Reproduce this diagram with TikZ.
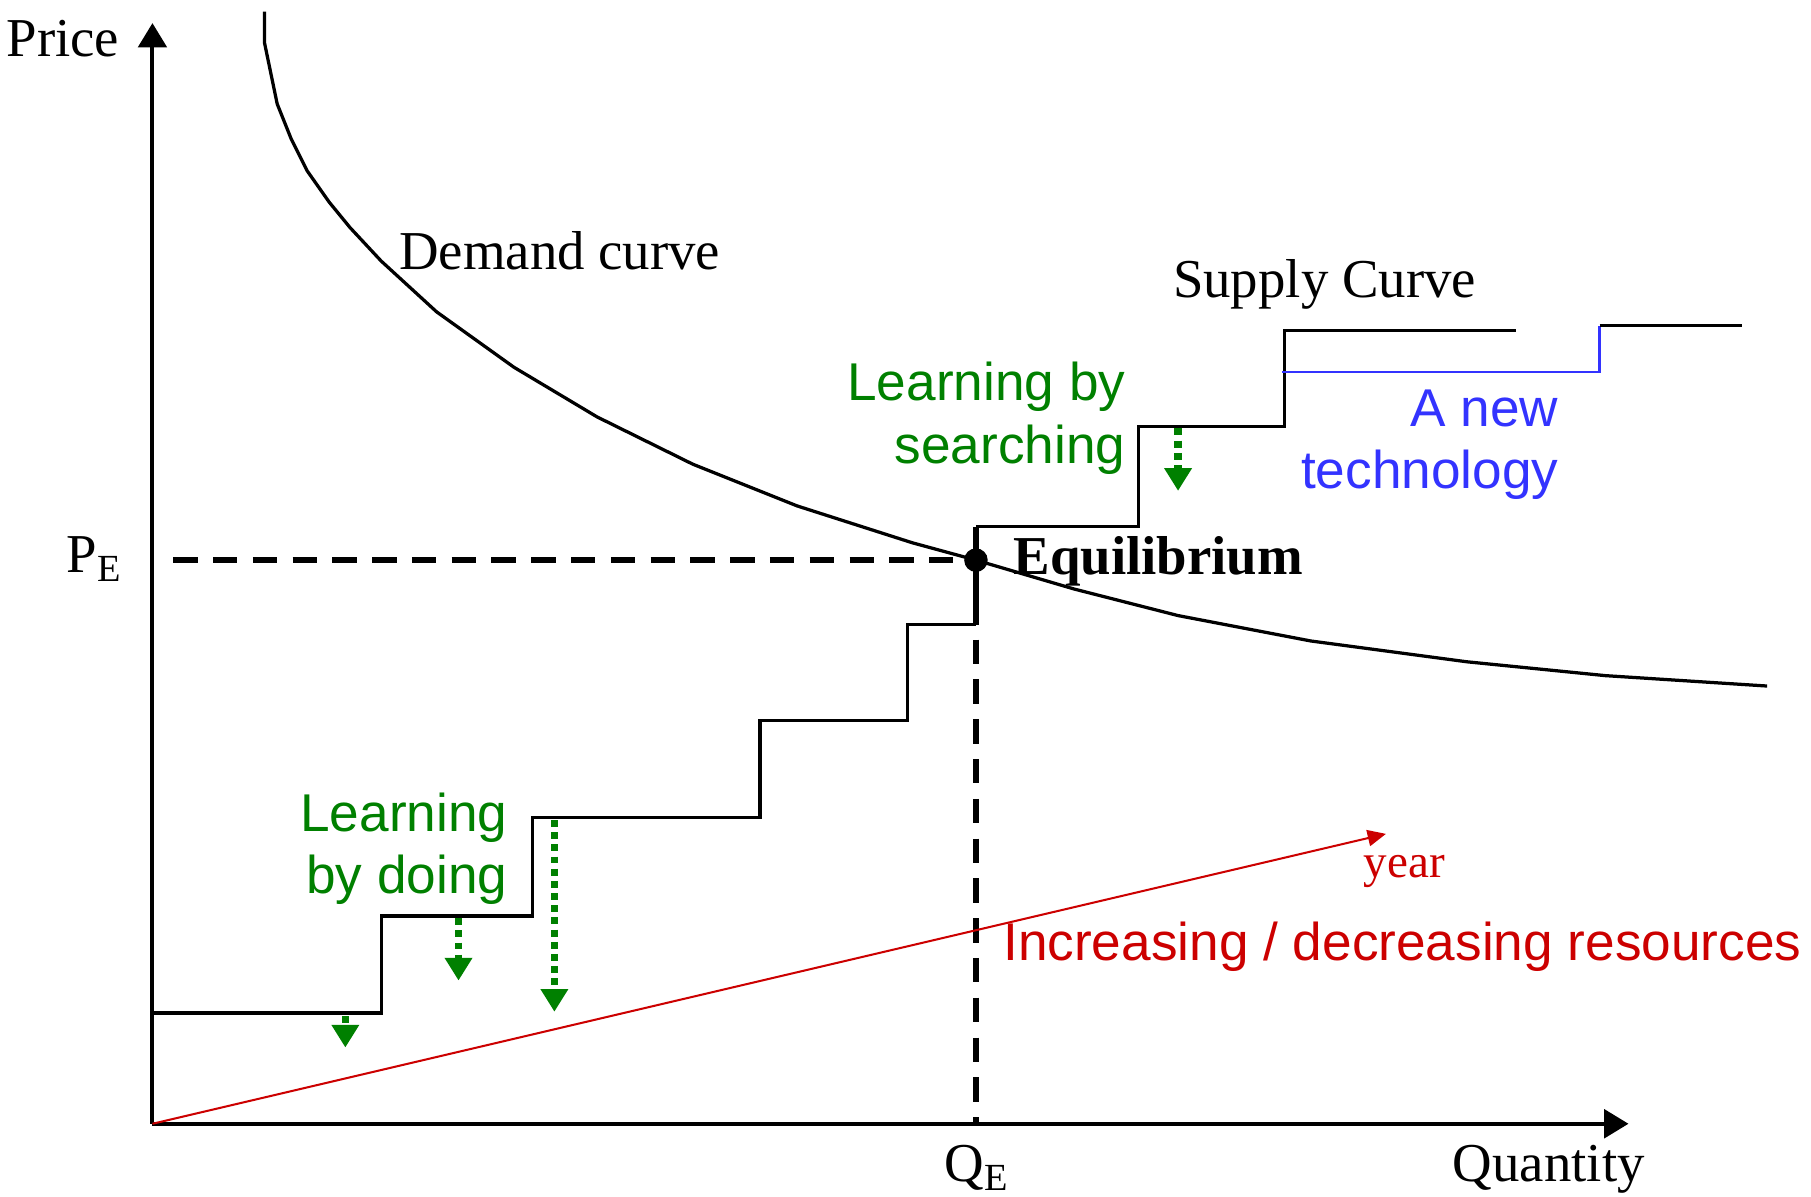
\documentclass[tikz,border=0pt]{standalone}
\usepackage{fontspec}
\setmainfont{Liberation Serif}
\newfontfamily\arialfont{Liberation Sans}
\usetikzlibrary{arrows.meta,positioning}
\definecolor{ink}{RGB}{0,0,0}
\definecolor{leaf}{RGB}{0,128,0}
\definecolor{techblue}{RGB}{51,51,255}
\definecolor{resred}{RGB}{204,0,0}
\tikzset{
  axis/.style={line width=1pt,ink,-{Triangle[length=6pt,width=7pt]}},
  stairs/.style={line width=0.8pt,ink},
  demand/.style={line width=0.8pt,ink},
  guide/.style={line width=1.5pt,ink,dash pattern=on 6pt off 3.8pt},
  learn/.style={line width=1.8pt,leaf,dash pattern=on 1.7pt off 1.3pt,-{Triangle[length=5.6pt,width=6.5pt]}},
  trend/.style={line width=0.5pt,resred,-{Triangle[length=4.5pt,width=4pt]}},
  serif/.style={font=\fontsize{13.5}{16}\selectfont,inner sep=0pt,text=ink},
  sans/.style={font=\arialfont\fontsize{13.1}{15.4}\selectfont,inner sep=0pt,align=right},
  dot/.style={circle,fill=ink,inner sep=0pt,minimum size=5.8pt}
}

\begin{document}
\begin{tikzpicture}[x=0.1mm,y=0.1mm]
  \useasboundingbox (-132,-63) rectangle (1436,973);
  % axes
  \coordinate (O) at (0,0);
  \coordinate (ytip) at (0,953);
  \coordinate (xtip) at (1278,0);
  \draw[axis] (O) -- (ytip);
  \draw[axis] (O) -- (xtip);
  \node[serif,anchor=base east] (price) at (-28,924) {Price};
  \node[serif,anchor=base] (qty) at (1209,-50) {Quantity};

  % demand curve
  \draw[demand] (97,963) -- (97,936) -- (108,883) -- (120,853) -- (134,825)
    -- (153,798) -- (171,776) -- (198,747) -- (246,703) -- (313,655)
    -- (385,612) -- (468,571) -- (558,535) -- (658,503) -- (713,488)
    -- (798,463) -- (888,440) -- (1003,418) -- (1138,400) -- (1258,388)
    -- (1398,379);
  \node[serif,anchor=base west] (demandlbl) at (213,740) {Demand curve};

  % supply curve
  \draw[stairs] (0,96) -- (198,96) -- (198,180) -- (329,180) -- (329,265)
    -- (526,265) -- (526,349) -- (654,349) -- (654,432) -- (713,432);
  \draw[stairs,line width=1.7pt] (713,432) -- (713,517);
  \draw[stairs] (713,517) -- (854,517) -- (854,604) -- (980,604)
    -- (980,687) -- (1181,687);
  \node[serif,anchor=base west] (supplylbl) at (883,715) {Supply Curve};

  % new technology
  \draw[techblue,line width=0.6pt] (978,651) -- (1253,651) -- (1253,691);
  \draw[ink,line width=0.6pt] (1253,691) -- (1376,691);
  \node[sans,techblue,anchor=east] (techlbl) at (1218,588) {A new\\technology};

  % equilibrium
  \node[dot] (eq) at (713,488) {};
  \coordinate (pefoot) at (18,488);
  \coordinate (qefoot) at (713,0);
  \draw[guide] (pefoot) -- (eq.center);
  \draw[guide] (eq.center) -- (qefoot);
  \node[serif,anchor=base east] (pe) at (-25,477) {P\textsubscript{E}};
  \node[serif,anchor=base] (qe) at (714,-50) {Q\textsubscript{E}};
  \node[serif,anchor=base west,font=\fontsize{13.5}{16}\selectfont\bfseries] (eqlbl) at (745,476) {Equilibrium};

  % learning
  \coordinate (la) at (167,93);  \coordinate (la') at (167,66);
  \coordinate (lb) at (265,178); \coordinate (lb') at (265,124);
  \coordinate (lc) at (348,263); \coordinate (lc') at (348,97);
  \coordinate (ld) at (888,602); \coordinate (ld') at (888,548);
  \foreach \a/\b in {la/la',lb/lb',lc/lc',ld/ld'}
    \draw[learn] (\a) -- (\b);
  \node[sans,leaf,anchor=east] (doinglbl) at (308,238) {Learning\\by doing};
  \node[sans,leaf,anchor=east] (searchlbl) at (843,611) {Learning by\\searching};

  % resources
  \coordinate (yearend) at (1068,251);
  \draw[trend] (O) -- (yearend);
  \node[serif,resred,anchor=base west,font=\fontsize{11.6}{14}\selectfont] (yearlbl) at (1048,213) {year};
  \node[sans,resred,anchor=base west] (reslbl) at (736,141) {Increasing / decreasing resources};
\end{tikzpicture}
\end{document}
